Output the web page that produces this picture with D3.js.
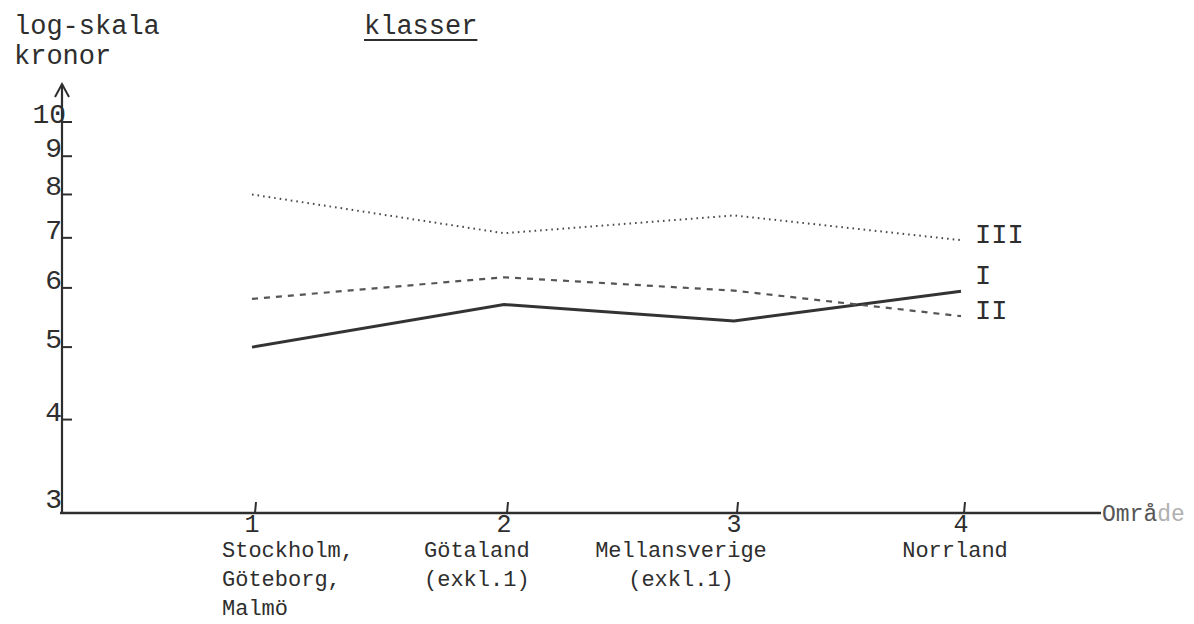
<!DOCTYPE html>
<html>
<head>
<meta charset="utf-8">
<script src="https://cdn.jsdelivr.net/npm/d3@7"></script>
<style>
  html, body { margin: 0; padding: 0; background: #fff; }
  svg text { font-family: "Liberation Mono", "DejaVu Sans Mono", monospace; fill: #2e2e2e; }
</style>
</head>
<body>
<svg id="chart" width="1194" height="624"></svg>
<script>
// Data
const areas      = [1, 2, 3, 4];
const areaLabels = [
  ["Stockholm,", "Göteborg,", "Malmö"],
  ["Götaland", "(exkl.1)"],
  ["Mellansverige", "(exkl.1)"],
  ["Norrland"]
];
const yTicks   = [3, 4, 5, 6, 7, 8, 9, 10];
const klassIII = [8.0, 7.1, 7.5, 6.95];
const klassI   = [5.0, 5.7, 5.42, 5.94];
const klassII  = [5.8, 6.2, 5.95, 5.5];
const seriesNames = ["III", "I", "II"];

// How the typed area labels sit against their tick
const labelAnchor = ["start", "start", "middle", "middle"];
const labelShift  = [-30, -80, -53, -6];

const svg = d3.select("#chart");
const ink = "#2e2e2e";

// hand-drawn axis: category spacing is not quite even
const x = d3.scaleLinear().domain([1, 2, 3, 4]).range([252, 504, 734, 961]);
const y = d3.scaleLog().domain([3, 10]).range([513, 122]);

// Line styles per series
const series = [
  { name: seriesNames[0], values: klassIII, dash: "1.6,4", width: 2,   color: "#4a4a4a" },
  { name: seriesNames[1], values: klassI,   dash: null,    width: 3,   color: "#333" },
  { name: seriesNames[2], values: klassII,  dash: "6,6",   width: 2.2, color: "#555" }
];
const labelY = { "III": 243, "I": 284, "II": 319 };

// Axes
const g = svg.append("g");

g.append("line")
  .attr("x1", 62).attr("x2", 62)
  .attr("y1", 514).attr("y2", 84)
  .attr("stroke", ink).attr("stroke-width", 2.2);

// arrow head
g.append("path")
  .attr("d", "M55,97 L62,84 L69,97")
  .attr("fill", "none").attr("stroke", ink).attr("stroke-width", 2);

g.append("line")
  .attr("x1", 60).attr("x2", 1101)
  .attr("y1", 513).attr("y2", 513)
  .attr("stroke", ink).attr("stroke-width", 2.6);

// y ticks
const yt = g.append("g").selectAll("g").data(yTicks).join("g");
yt.filter(d => d !== 3).append("line")
  .attr("x1", 62).attr("x2", 72)
  .attr("y1", d => y(d)).attr("y2", d => y(d))
  .attr("stroke", ink).attr("stroke-width", 2);
yt.append("text")
  .attr("x", d => d === 10 ? 66 : 62)
  .attr("y", d => d === 3 ? y(d) - 5 : y(d) + 1)
  .attr("text-anchor", "end")
  .attr("font-size", 28)
  .text(d => d);

// x ticks
const xt = g.append("g").selectAll("g").data(areas).join("g");
xt.append("line")
  .attr("x1", d => x(d) + 4).attr("x2", d => x(d) + 3)
  .attr("y1", 502).attr("y2", 513)
  .attr("stroke", ink).attr("stroke-width", 2);
xt.append("text")
  .attr("x", d => x(d))
  .attr("y", 532)
  .attr("text-anchor", "middle")
  .attr("font-size", 25)
  .text(d => d);

// area labels
areas.forEach((a, i) => {
  areaLabels[i].forEach((s, j) => {
    g.append("text")
      .attr("x", x(a) + labelShift[i])
      .attr("y", 557 + j * 29)
      .attr("text-anchor", labelAnchor[i])
      .attr("font-size", 22)
      .text(s);
  });
});

// axis titles
svg.append("text").attr("x", 14).attr("y", 34).attr("font-size", 27).text("log-skala");
svg.append("text").attr("x", 14).attr("y", 64).attr("font-size", 27).text("kronor");
const kl = svg.append("text").attr("x", 364).attr("y", 34).attr("font-size", 27).text("klasser");
const klw = kl.node().getComputedTextLength();
svg.append("line")
  .attr("x1", 364).attr("x2", 364 + klw)
  .attr("y1", 40).attr("y2", 40)
  .attr("stroke", ink).attr("stroke-width", 2);

const omr = svg.append("text").attr("x", 1102).attr("y", 521).attr("font-size", 23);
omr.append("tspan").text("Områ").style("fill", "#555");
omr.append("tspan").text("de").style("fill", "#b0b0b0");

// series lines
const line = d3.line()
  .x((d, i) => x(areas[i]))
  .y(d => y(d));

svg.append("g").selectAll("path")
  .data(series)
  .join("path")
    .attr("d", d => line(d.values))
    .attr("fill", "none")
    .attr("stroke", d => d.color)
    .attr("stroke-width", d => d.width)
    .attr("stroke-dasharray", d => d.dash)
    .attr("stroke-linecap", "butt");

svg.append("g").selectAll("text")
  .data(series)
  .join("text")
    .attr("x", 975)
    .attr("y", d => labelY[d.name])
    .attr("font-size", 27)
    .text(d => d.name);
</script>
</body>
</html>
